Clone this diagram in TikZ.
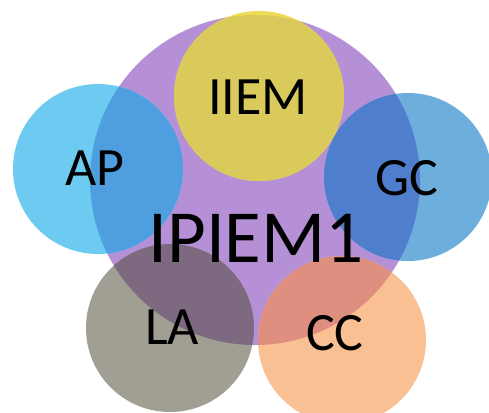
\documentclass[tikz,border=0pt]{standalone}
\usepackage{fontspec}
\setmainfont{Carlito}
\definecolor{purp}{HTML}{B590D6}
\definecolor{yelo}{HTML}{EEDC55}
\definecolor{yeli}{HTML}{DACA5C}
\definecolor{apo}{HTML}{6DCAF0}
\definecolor{api}{HTML}{4F9FE0}
\definecolor{gco}{HTML}{6EAEDD}
\definecolor{gci}{HTML}{4F7FCC}
\definecolor{lao}{HTML}{A19F93}
\definecolor{lai}{HTML}{7E6A80}
\definecolor{cco}{HTML}{F9C093}
\definecolor{cci}{HTML}{DE8F80}
\begin{document}
\begin{tikzpicture}[x=1pt,y=-1pt,
  lbl/.style={font=\fontsize{54}{54}\selectfont, text=black, inner sep=0pt},
  big/.style={font=\fontsize{75}{75}\selectfont, text=black, inner sep=0pt}]
\useasboundingbox (0,0) rectangle (489,412);
\fill[white] (0,0) rectangle (489,412);
\def\purpcircle{(255,180) circle[radius=165]}
\fill[purp] \purpcircle;
% small circles: outside colour, then overlap colour clipped by the purple circle
\foreach \cx/\cy/\r/\co/\ci in {259/96/85/yelo/yeli, 98/169/85/apo/api, 408/177/84/gco/gci, 170/328/84/lao/lai, 342/340/84/cco/cci}{
  \fill[\co] (\cx,\cy) circle[radius=\r];
  \begin{scope}
    \clip \purpcircle;
    \fill[\ci] (\cx,\cy) circle[radius=\r];
  \end{scope}
}
\node[lbl] (iiem) at (258,97) {IIEM};
\node[lbl] (ap) at (95,168) {AP};
\node[lbl] (gc) at (407,178) {GC};
\node[lbl] (la) at (172,327) {LA};
\node[lbl] (cc) at (335,333) {CC};
\node[big] (ipiem) at (256,238) {IPIEM1};
\end{tikzpicture}
\end{document}
